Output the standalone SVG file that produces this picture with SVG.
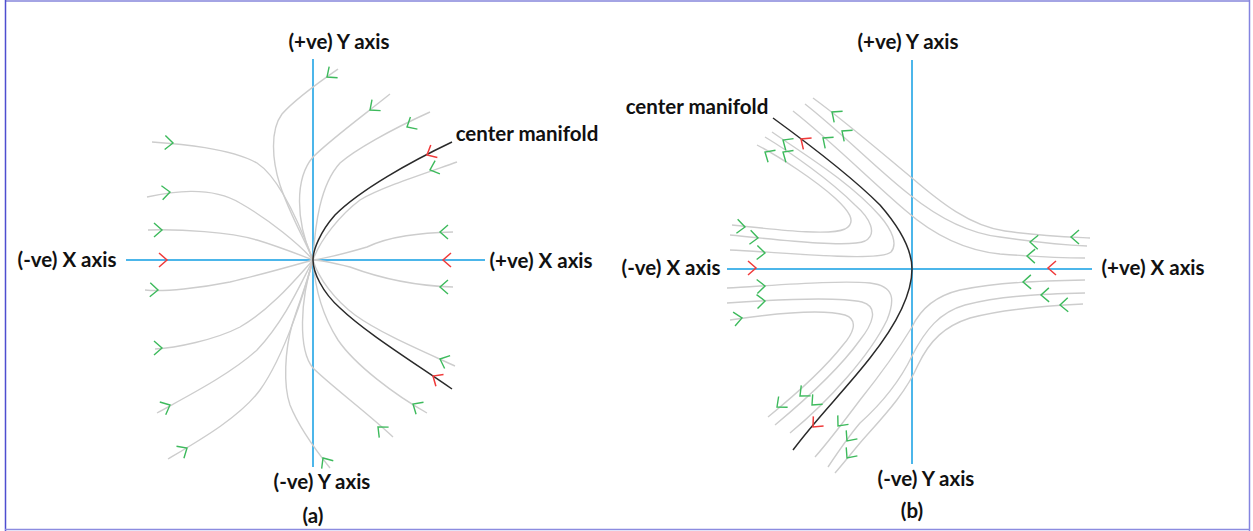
<svg xmlns="http://www.w3.org/2000/svg" xmlns:xlink="http://www.w3.org/1999/xlink" width="1253" height="531" viewBox="0 0 1253 531">
<defs>
<style>
.bg{fill:#ffffff}
.axis{stroke:#4cb6ea;stroke-width:2;fill:none}
.traj{stroke:#cdcdcd;stroke-width:1.4;fill:none}
.cm{stroke:#2a2a2a;stroke-width:1.5;fill:none}
.ga{stroke:#3dba5c;stroke-width:1.4;fill:none}
.ra{stroke:#f03a3a;stroke-width:1.5;fill:none}
.lbl{font-family:Lato,"Liberation Sans",sans-serif;font-weight:bold;font-size:20.5px;fill:#111111;text-anchor:middle}
</style>
<path id="chev" d="M-8,-7 L0,0 L-8,7"/>
</defs>
<rect class="bg" x="0" y="0" width="1253" height="531"/>
<g id="frame">
<line x1="5" y1="1" x2="1250" y2="1" stroke="#a4a4e4" stroke-width="2"/>
<line x1="5.5" y1="0" x2="5.5" y2="531" stroke="#4e4ed0" stroke-width="1.5"/>
<line x1="1249.5" y1="0" x2="1249.5" y2="531" stroke="#8484e0" stroke-width="1.5"/>
<line x1="5" y1="529.5" x2="1250" y2="529.5" stroke="#8c8ce0" stroke-width="1.5"/>
</g>

<!-- ============ (a) stable node ============ -->
<g id="a-axes">
<line class="axis" x1="313" y1="59" x2="313" y2="467"/>
<line class="axis" x1="126" y1="260" x2="485" y2="260"/>
</g>
<g id="a-trajectories">
<path class="traj" d="M338,69 C325,78 296,98 282,114 C270,130 272,160 280,185 C290,215 305,240 313,260"/>
<path class="traj" d="M330,468 C322,458 300,430 290,405 C283,385 285,350 292,325 C300,300 308,280 313,260"/>
<path class="traj" d="M390,94 C360,118 330,140 313,157 C295,178 295,220 313,260"/>
<path class="traj" d="M393,437 C370,415 330,385 313,368 C298,350 300,300 313,260"/>
<path class="traj" d="M430,112 C390,130 355,150 340,163 C320,185 315,225 313,260"/>
<path class="traj" d="M427,413 C395,395 355,365 338,340 C322,315 315,290 313,260"/>
<path class="traj" d="M457,162 C420,175 380,188 360,200 C340,215 320,240 313,260"/>
<path class="traj" d="M455,366 C420,350 380,333 355,315 C335,300 318,278 313,260"/>
<path class="traj" d="M453,232 C420,233 390,236 367,247 C340,255 320,259 313,260"/>
<path class="traj" d="M453,287 C420,286 385,280 350,267 C330,262 318,260 313,260"/>
<path class="traj" d="M152,142 C180,144 230,148 257,163 C280,178 300,225 313,260"/>
<path class="traj" d="M147,197 C170,192 210,185 240,203 C270,220 300,245 313,260"/>
<path class="traj" d="M148,230 C180,229 230,232 257,240 C280,247 300,255 313,260"/>
<path class="traj" d="M145,290 C165,292 200,288 230,282 C260,275 295,265 313,260"/>
<path class="traj" d="M155,349 C175,348 215,340 240,327 C270,310 295,280 313,260"/>
<path class="traj" d="M157,413 C180,400 230,375 257,350 C285,320 300,285 313,260"/>
<path class="traj" d="M168,459 C200,440 240,417 260,390 C285,355 305,290 313,260"/>
<path class="cm" d="M452,142 C410,162 360,190 335,215 C320,232 313,250 313,260 C313,272 322,292 340,308 C365,332 410,360 452,389"/>
</g>
<g id="a-arrows">
<use xlink:href="#chev" class="ga" transform="translate(327,77) rotate(143)"/>
<use xlink:href="#chev" class="ga" transform="translate(370,110) rotate(142)"/>
<use xlink:href="#chev" class="ga" transform="translate(407,127) rotate(150)"/>
<use xlink:href="#chev" class="ra" transform="translate(427,155) rotate(152)"/>
<use xlink:href="#chev" class="ga" transform="translate(430,170) rotate(160)"/>
<use xlink:href="#chev" class="ga" transform="translate(440,232) rotate(180)"/>
<use xlink:href="#chev" class="ra" transform="translate(443,260) rotate(180)"/>
<use xlink:href="#chev" class="ga" transform="translate(440,287) rotate(180)"/>
<use xlink:href="#chev" class="ga" transform="translate(440,359) rotate(203)"/>
<use xlink:href="#chev" class="ra" transform="translate(433,376) rotate(213)"/>
<use xlink:href="#chev" class="ga" transform="translate(413,404) rotate(212)"/>
<use xlink:href="#chev" class="ga" transform="translate(378,427) rotate(222)"/>
<use xlink:href="#chev" class="ga" transform="translate(323,458) rotate(236)"/>
<use xlink:href="#chev" class="ga" transform="translate(173,143) rotate(3)"/>
<use xlink:href="#chev" class="ga" transform="translate(170,192) rotate(-5)"/>
<use xlink:href="#chev" class="ga" transform="translate(162,230) rotate(0)"/>
<use xlink:href="#chev" class="ra" transform="translate(167,260) rotate(0)"/>
<use xlink:href="#chev" class="ga" transform="translate(158,290) rotate(2)"/>
<use xlink:href="#chev" class="ga" transform="translate(162,348) rotate(0)"/>
<use xlink:href="#chev" class="ga" transform="translate(170,405) rotate(-25)"/>
<use xlink:href="#chev" class="ga" transform="translate(187,448) rotate(-32)"/>
</g>
<g id="a-labels">
<text class="lbl" x="339" y="49">(+ve) Y axis</text>
<text class="lbl" x="67" y="267">(-ve) X axis</text>
<text class="lbl" x="541" y="268">(+ve) X axis</text>
<text class="lbl" x="527" y="141">center manifold</text>
<text class="lbl" x="322" y="489">(-ve) Y axis</text>
<text class="lbl" x="313" y="523">(a)</text>
</g>

<!-- ============ (b) saddle ============ -->
<g id="b-axes">
<line class="axis" x1="912" y1="60" x2="912" y2="464"/>
<line class="axis" x1="727" y1="269" x2="1092" y2="269"/>
</g>
<g id="b-trajectories">
<path class="traj" d="M732,225 C780,230 830,236 845,229 C858,222 848,210 835,198 C815,180 780,157 757,145"/>
<path class="traj" d="M730,235 C780,240 850,248 865,241 C878,234 870,218 855,205 C830,180 790,152 765,137"/>
<path class="traj" d="M730,250 C790,253 880,262 891,252 C898,244 892,230 880,216 C850,182 805,155 772,132"/>
<path class="traj" d="M727,288 C780,285 840,280 870,283 C895,286 895,300 887,320 C870,355 830,400 790,433"/>
<path class="traj" d="M727,303 C770,300 835,296 862,302 C880,307 872,325 860,340 C840,368 805,400 775,425"/>
<path class="traj" d="M730,320 C770,314 820,308 845,315 C860,320 852,335 843,345 C825,368 795,395 768,417"/>
<path class="traj" d="M813,98 C850,125 890,160 912,178 C940,202 970,226 1005,231 C1040,236 1070,237 1090,238"/>
<path class="traj" d="M805,104 C842,133 880,172 910,195 C935,215 965,233 1000,237 C1035,242 1065,245 1087,246"/>
<path class="traj" d="M793,111 C830,140 870,180 905,210 C930,232 960,250 1000,254 C1040,257 1065,258 1085,258"/>
<path class="traj" d="M1085,280 C1040,281 1000,282 960,290 C935,296 920,310 912,327 C895,355 880,375 860,400 C845,420 830,440 815,457"/>
<path class="traj" d="M1085,293 C1040,294 1000,296 965,305 C940,312 925,330 912,356 C898,385 880,405 860,423 C848,437 838,452 828,467"/>
<path class="traj" d="M1083,304 C1040,306 1000,310 970,318 C945,326 930,340 918,365 C905,395 880,420 860,443 C850,455 842,465 835,473"/>
<path class="cm" d="M773,118 C810,145 850,175 880,205 C900,228 912,250 912,269 C912,290 900,320 870,358 C845,390 815,420 793,450"/>
</g>
<g id="b-arrows">
<use xlink:href="#chev" class="ga" transform="translate(745,227) rotate(5)"/>
<use xlink:href="#chev" class="ga" transform="translate(758,238) rotate(5)"/>
<use xlink:href="#chev" class="ga" transform="translate(765,253) rotate(3)"/>
<use xlink:href="#chev" class="ra" transform="translate(756,268) rotate(0)"/>
<use xlink:href="#chev" class="ga" transform="translate(765,286) rotate(-3)"/>
<use xlink:href="#chev" class="ga" transform="translate(765,301) rotate(-4)"/>
<use xlink:href="#chev" class="ga" transform="translate(742,318) rotate(-8)"/>
<use xlink:href="#chev" class="ga" transform="translate(765,152) rotate(212)"/>
<use xlink:href="#chev" class="ga" transform="translate(783,152) rotate(213)"/>
<use xlink:href="#chev" class="ga" transform="translate(783,140) rotate(214)"/>
<use xlink:href="#chev" class="ra" transform="translate(801,139) rotate(216)"/>
<use xlink:href="#chev" class="ga" transform="translate(832,112) rotate(217)"/>
<use xlink:href="#chev" class="ga" transform="translate(842,131) rotate(217)"/>
<use xlink:href="#chev" class="ga" transform="translate(823,138) rotate(217)"/>
<use xlink:href="#chev" class="ga" transform="translate(777,407) rotate(140)"/>
<use xlink:href="#chev" class="ga" transform="translate(800,396) rotate(138)"/>
<use xlink:href="#chev" class="ga" transform="translate(812,405) rotate(135)"/>
<use xlink:href="#chev" class="ra" transform="translate(813,427) rotate(133)"/>
<use xlink:href="#chev" class="ga" transform="translate(838,426) rotate(130)"/>
<use xlink:href="#chev" class="ga" transform="translate(847,441) rotate(127)"/>
<use xlink:href="#chev" class="ga" transform="translate(847,458) rotate(127)"/>
<use xlink:href="#chev" class="ga" transform="translate(1071,237) rotate(180)"/>
<use xlink:href="#chev" class="ga" transform="translate(1030,242) rotate(182)"/>
<use xlink:href="#chev" class="ga" transform="translate(1027,256) rotate(181)"/>
<use xlink:href="#chev" class="ra" transform="translate(1048,268) rotate(180)"/>
<use xlink:href="#chev" class="ga" transform="translate(1023,282) rotate(179)"/>
<use xlink:href="#chev" class="ga" transform="translate(1041,295) rotate(179)"/>
<use xlink:href="#chev" class="ga" transform="translate(1060,305) rotate(178)"/>
</g>
<g id="b-labels">
<text class="lbl" x="908" y="49">(+ve) Y axis</text>
<text class="lbl" x="697" y="114">center manifold</text>
<text class="lbl" x="671" y="275">(-ve) X axis</text>
<text class="lbl" x="1153" y="275">(+ve) X axis</text>
<text class="lbl" x="926" y="486">(-ve) Y axis</text>
<text class="lbl" x="912" y="518">(b)</text>
</g>
</svg>
